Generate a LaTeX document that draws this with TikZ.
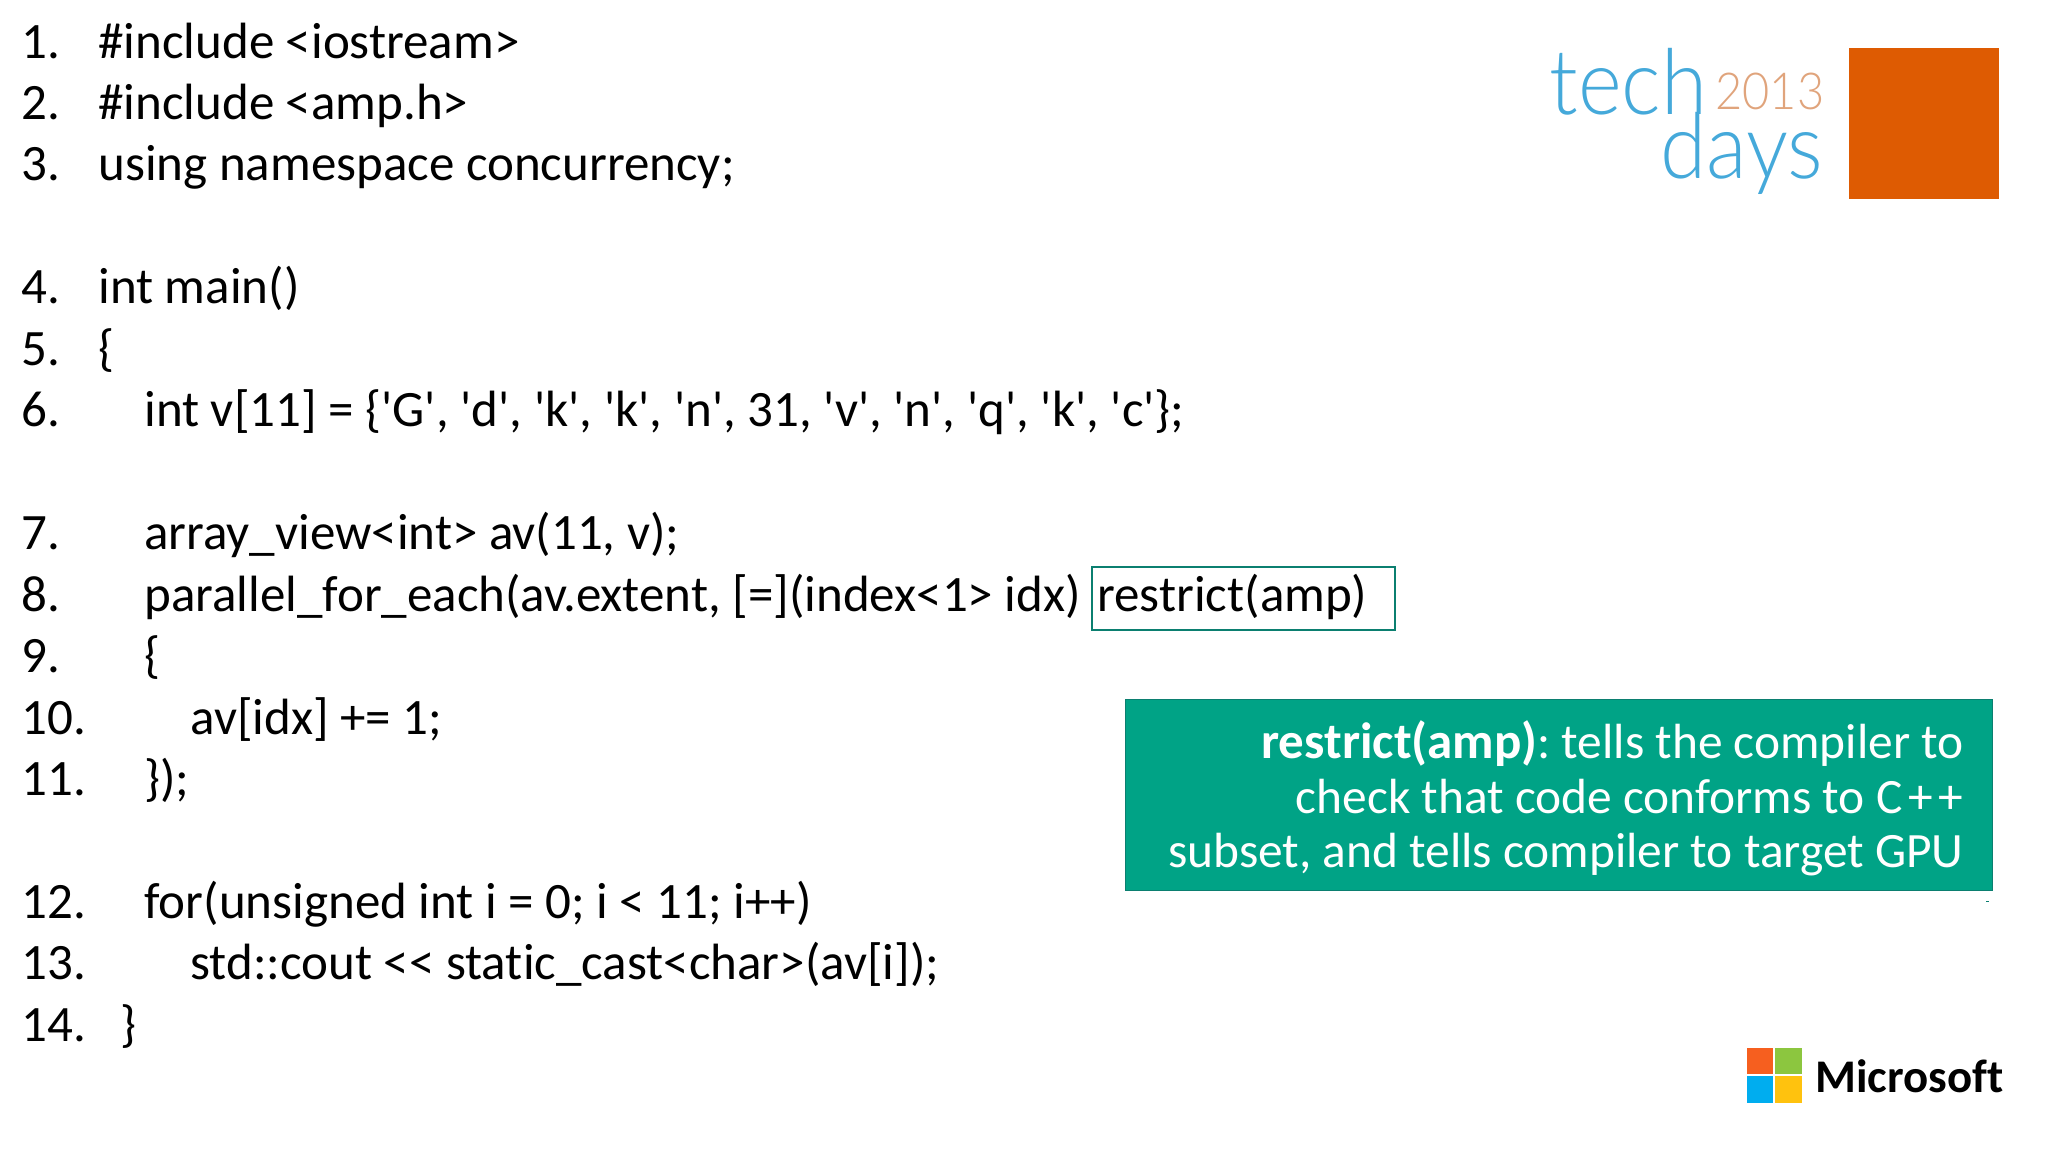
\documentclass[tikz,border=0pt]{standalone}
\usepackage{fontspec}
\setmainfont{Carlito}[Ligatures={TeXOff,NoCommon}]
\newfontfamily\logofont{Lato Light}[FakeStretch=0.92]
\tikzset{
  numlabel/.style={anchor=base west,inner sep=0pt,font=\fontsize{25.5}{30}\selectfont},
  codeline/.style={anchor=base west,inner sep=0pt,font=\fontsize{25.5}{30}\selectfont},
  calloutline/.style={anchor=base east,inner sep=0pt,text=white,font=\fontsize{24.7}{29}\selectfont},
  logoword/.style={anchor=base west,inner sep=0pt,text=techblue,font=\logofont\fontsize{45.5}{50}\selectfont},
}
\definecolor{tealbox}{HTML}{00A386}
\definecolor{tealline}{HTML}{0B7F70}
\definecolor{orangebox}{HTML}{DE5B02}
\definecolor{techblue}{HTML}{45A9DA}
\definecolor{yearorange}{HTML}{E0A47C}
\definecolor{msred}{HTML}{F65F1F}
\definecolor{msgreen}{HTML}{8CC63F}
\definecolor{msblue}{HTML}{00ADEF}
\definecolor{msyellow}{HTML}{FFC20E}
\begin{document}
\frenchspacing
\begin{tikzpicture}[x=0.5pt,y=-0.5pt]
\useasboundingbox (0,0) rectangle (2048,1152);
% line numbers
\foreach \n/\y in {1/58,2/119.4,3/180.9,4/303.8,5/365.2,6/426.7,7/549.6,8/611,9/672.5,10/734,11/795.4,12/918.3,13/979.8,14/1041.2}
  \node [numlabel] (num\n) at (21,\y) {\n.};
% code
\node [codeline] (code1) at (98,58) {\#include <iostream>};
\node [codeline] (code2) at (98,119.4) {\#include <amp.h>};
\node [codeline] (code3) at (98,180.9) {using namespace concurrency;};
\node [codeline] (code4) at (98,303.8) {int main()};
\node [codeline] (code5) at (98,365.2) {\{};
\node [codeline] (code6) at (144,426.7) {int v[11] = \{'G', 'd', 'k', 'k', 'n', 31, 'v', 'n', 'q', 'k', 'c'\};};
\node [codeline] (code7) at (144,549.6) {array\_view<int> av(11, v);};
\node [codeline] (code8) at (144,611) {parallel\_for\_each(av.extent, [=](index<1> idx)};
\node [codeline] (code9) at (144,672.5) {\{};
\node [codeline] (code10) at (190,734) {av[idx] += 1;};
\node [codeline] (code11) at (144,795.4) {\});};
\node [codeline] (code12) at (144,918.3) {for(unsigned int i = 0; i < 11; i++)};
\node [codeline] (code13) at (190,979.8) {std::cout << static\_cast<char>(av[i]);};
\node [codeline] (code14) at (120,1041.2) {\}};
% highlight
\draw [tealline,line width=1pt] (1092,567) rectangle (1395,630);
\node [codeline] (restrict) at (1097,611) {restrict(amp)};
% callout
\draw [tealline,fill=tealbox] (1125,699) rectangle (1992,890);
\node [calloutline] (call1) at (1964,758) {{\bfseries\fontsize{25.5}{29}\selectfont restrict(amp)}: tells the compiler to};
\node [calloutline] (call2) at (1964,813) {check that code conforms to C\kern3pt+\kern3pt+};
\node [calloutline] (call3) at (1964,867) {subset, and tells compiler to target GPU};
\fill [tealline] (1986,900.5) rectangle (1989,902);
% logo
\fill [orangebox] (1849,48) rectangle (1999,199);
\node [logoword] (tech) at (1549,114) {tech};
\node [logoword] (days) at (1660,178) {days};
\node [anchor=base west,inner sep=0pt,text=yearorange,font=\logofont\fontsize{25.5}{32}\selectfont] (year) at (1715,109) {2013};
% microsoft
\fill [msred] (1747,1048) rectangle (1773,1074);
\fill [msgreen] (1775,1048) rectangle (1802,1074);
\fill [msblue] (1747,1076) rectangle (1773,1103);
\fill [msyellow] (1775,1076) rectangle (1802,1103);
\node [anchor=base west,inner sep=0pt,font=\bfseries\fontsize{23.4}{28}\selectfont] (ms) at (1815,1092) {Microsoft};
\end{tikzpicture}
\end{document}
